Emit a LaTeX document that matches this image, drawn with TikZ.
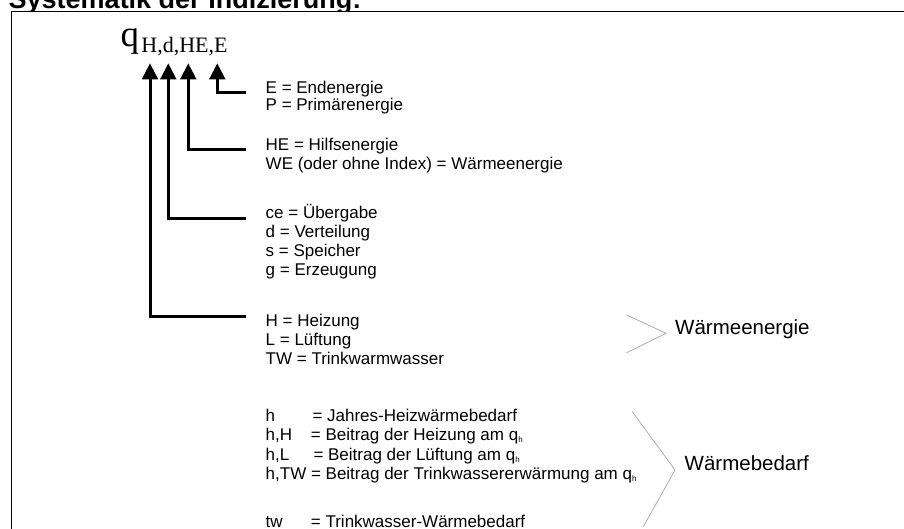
\documentclass[tikz,border=0pt]{standalone}
\usepackage{fontspec}
\setmainfont{Liberation Sans}
\newfontfamily\tnr{Liberation Serif}
\usetikzlibrary{arrows.meta}
\begin{document}
\begin{tikzpicture}[x=1pt,y=-1pt,
  lst/.style={anchor=base west, inner sep=0pt, font=\fontsize{17}{19}\selectfont},
  biglbl/.style={anchor=base west, inner sep=0pt, font=\fontsize{20.5}{24}\selectfont},
  conn/.style={line width=3pt, line join=miter, -{Triangle[width=15.6pt,length=16pt]}},
  brk/.style={draw=black!35, line width=0.7pt},
  frame/.style={line width=1.3pt}]
\useasboundingbox (0,0) rectangle (904,529);
% title (cropped at top)
\node[anchor=base west, inner sep=0pt, font=\bfseries\fontsize{27}{30}\selectfont] (title) at (8.5,9) {Systematik der Indizierung:};
\fill[white] (11.5,11.5) rectangle (910,540);
\draw[frame] (11.5,540) -- (11.5,11.5) -- (910,11.5);
% symbol
\node[anchor=base west, inner sep=0pt, font=\tnr\fontsize{37}{40}\selectfont] (q) at (120.5,46.6) {q};
\node[anchor=base west, inner sep=0pt, font=\tnr\fontsize{22}{24}\selectfont] (sub) at (141.2,52.7) {H,d,HE,E};
% arrow tips and connector ends
\coordinate (tH) at (150,63.3);
\coordinate (td) at (168.3,63.3);
\coordinate (tHE) at (188.3,63.3);
\coordinate (tE) at (217.3,63.3);
\coordinate (sE) at (246,92.3);
\coordinate (sHE) at (246,150);
\coordinate (sd) at (246,218.3);
\coordinate (sH) at (246,316.7);
\draw[conn] (sE) -| (tE);
\draw[conn] (sHE) -| (tHE);
\draw[conn] (sd) -| (td);
\draw[conn] (sH) -| (tH);
% lists
\node[lst] (e1) at (265.5,93.5) {E = Endenergie};
\node[lst] (e2) at (265.5,110.8) {P = Primärenergie};
\node[lst] (he1) at (265.5,150.7) {HE = Hilfsenergie};
\node[lst] (he2) at (265.5,170) {WE (oder ohne Index) = Wärmeenergie};
\node[lst] (d1) at (265.5,218.3) {ce = Übergabe};
\node[lst] (d2) at (265.5,237.3) {d = Verteilung};
\node[lst] (d3) at (265.5,256.2) {s = Speicher};
\node[lst] (d4) at (265.5,275.1) {g = Erzeugung};
\node[lst] (h1) at (265.5,326.7) {H = Heizung};
\node[lst] (h2) at (265.5,345.6) {L = Lüftung};
\node[lst] (h3) at (265.5,364.5) {TW = Trinkwarmwasser};
% Waermebedarf list
\node[lst] (b1a) at (265.5,421.7) {h};
\node[lst] (b1b) at (312.3,421.7) {= Jahres-Heizwärmebedarf};
\node[lst] (b2a) at (265.5,440.7) {h,H};
\node[lst] (b2b) at (310.7,440.7) {= Beitrag der Heizung am q\raisebox{-2pt}{\fontsize{8}{8}\selectfont h}};
\node[lst] (b3a) at (265.5,460) {h,L};
\node[lst] (b3b) at (313.3,460) {= Beitrag der Lüftung am q\raisebox{-2pt}{\fontsize{8}{8}\selectfont h}};
\node[lst] (b4) at (265.5,479) {h,TW = Beitrag der Trinkwassererwärmung am q\raisebox{-2pt}{\fontsize{8}{8}\selectfont h}};
\node[lst] (b5a) at (265.5,527) {tw};
\node[lst] (b5b) at (310.7,527) {= Trinkwasser-Wärmebedarf};
% group labels and brackets
\node[biglbl] (we) at (675,334) {Wärmeenergie};
\node[biglbl] (wb) at (684.5,470) {Wärmebedarf};
\draw[brk] (626.7,315) -- (666,333.3) -- (626.7,352.7);
\draw[brk] (632.3,411.7) -- (675,470) -- (643.3,526.7);
\end{tikzpicture}
\end{document}
